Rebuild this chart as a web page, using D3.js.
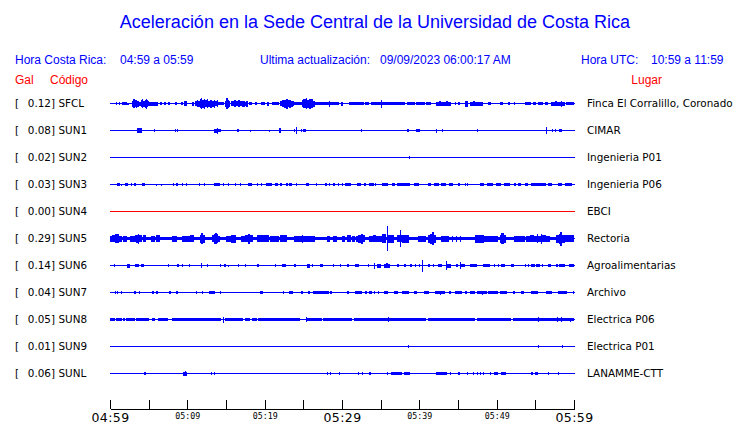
<!DOCTYPE html>
<html>
<head>
<meta charset="utf-8">
<script src="https://cdn.jsdelivr.net/npm/d3@7/dist/d3.min.js"></script>
<style>
  html, body { margin: 0; padding: 0; background: #fff; }
  svg { display: block; }
</style>
</head>
<body>
<svg id="chart" width="740" height="423"></svg>
<script>
// ---------------- DATA ----------------
const titleText = "Aceleración en la Sede Central de la Universidad de Costa Rica";
const horaCR = "04:59 a 05:59";
const ultimaAct = "09/09/2023 06:00:17 AM";
const horaUTC = "10:59 a 11:59";

const stations = ["SFCL", "SUN1", "SUN2", "SUN3", "SUN4", "SUN5", "SUN6", "SUN7", "SUN8", "SUN9", "SUNL"];
const places = ["Finca El Corralillo, Coronado", "CIMAR", "Ingenieria P01", "Ingenieria P06", "EBCI",
  "Rectoria", "Agroalimentarias", "Archivo", "Electrica P06", "Electrica P01", "LANAMME-CTT"];
const peakGal = [0.12, 0.08, 0.02, 0.03, 0.00, 0.29, 0.14, 0.04, 0.05, 0.01, 0.06];

// time ticks (minutes after 04:59) and their labels
const tickMinutes = [0, 5, 10, 15, 20, 25, 30, 35, 40, 45, 50, 55, 60];
const tickLabels = ["04:59", "", "05:09", "", "05:19", "", "05:29", "", "05:39", "", "05:49", "", "05:59"];
const majorLabels = ["04:59", "05:29", "05:59"];

// envelope segments: [start minute, end minute, half amplitude]
const sfclEnv = [[0.8,0.9,1.3],[1.1,1.2,1.3],[1.5,2.2,1.3],[2.2,2.5,1],
  [2.9,3.0,3],[3.0,3.2,4.5],[3.2,3.3,3.5],[3.3,3.5,4],[3.5,3.7,3],[3.7,4.0,2],
  [4.0,4.2,3.5],[4.2,4.3,4.5],[4.3,4.5,3],[4.5,4.6,4],[4.6,4.7,5],[4.7,4.9,3.5],[4.9,5.0,2.5],
  [5.0,6.2,2],[6.5,6.7,1.5],[7.0,7.2,1.3],[7.5,7.8,1.3],[8.4,8.6,1.3],[9.2,9.4,1.3],[9.6,9.9,2.5],[10.6,10.9,2],
  [11.0,11.2,2.5],[11.2,11.4,3.5],[11.4,11.6,3],
  [11.6,11.8,4.5],[11.8,11.9,5.5],[11.9,12.1,4],[12.1,12.3,5],
  [12.3,12.5,3.5],[12.5,12.7,4.5],[12.7,12.9,3],[12.9,13.2,4],[13.2,13.4,3],[13.4,13.6,4],[13.6,13.8,2.5],[13.8,14.0,3.5],
  [14.0,14.8,1.5],
  [14.9,15.0,3],[15.0,15.2,5.5],[15.2,15.3,4],[15.3,15.5,3],
  [15.7,16.0,2.5],[16.0,16.3,3.5],[16.3,16.5,2.5],[16.5,16.8,3.5],[16.8,17.1,2.5],[17.1,17.4,3],[17.4,17.6,2],[17.6,17.9,3],
  [18.0,18.3,1.5],[18.7,19.0,1.3],[19.5,19.8,1.3],[19.7,20.1,1.5],[20.3,20.6,2],[20.9,21.8,1.5],
  [22.0,22.3,2.5],[22.3,22.5,3.5],[22.5,22.7,4],[22.7,23.0,5],[23.0,23.2,3.5],[23.2,23.4,4],[23.4,23.6,3],[23.6,23.8,2.5],
  [23.8,24.8,1.5],
  [24.8,25.0,3.5],[25.0,25.3,4.5],[25.3,25.5,5.5],[25.5,25.7,4],[25.7,26.0,5],[26.0,26.2,4.5],[26.2,26.5,3],
  [26.5,28.3,1.5],[28.3,28.4,3],[28.5,29.6,1.5],[29.9,30.1,2],[30.9,32.8,1.5],
  [33.0,33.5,1.5],[33.7,35.0,1.5],[35.0,35.1,4],[35.2,38.2,1.5],[38.4,39.5,1.5],[39.6,39.9,1.5],[39.8,40.7,1.5],
  [40.9,41.5,1.5],[42.2,42.6,2],[42.6,42.8,2.5],[42.8,43.5,2],[43.5,43.7,2.5],[43.7,44.1,2],[44.6,44.8,1.3],[45.0,45.2,1.3],
  [45.9,46.3,3],[46.5,47.0,2],[47.0,47.2,2.5],[47.2,48.2,2],[48.9,49.3,1.5],
  [50.4,50.8,1.3],[51.5,51.7,1.3],[52.2,52.3,1.3],[53.6,54.5,1.5],[54.7,55.1,1.3],[55.3,56.0,1.5],[56.2,56.6,1.5],
  [57.0,57.6,2],[57.6,57.8,2.5],[57.8,58.3,2],[58.3,58.4,3],[58.4,58.8,2],[59.0,60,1.5]];
const sun1Env = [[3.5,4.1,2.3],[5.7,5.8,1.5],[8.4,8.5,1.5],[8.7,8.8,1.5],[13.4,13.8,2],[13.8,13.9,3],[14.0,14.4,1.5],
  [16.4,16.7,1.5],[18.1,18.2,1],[20.6,20.7,1],[21.8,22.1,2.3],[23.8,23.9,1.3],[24.1,24.2,3.3],[24.7,24.8,1.3],
  [25.0,25.3,1.5],[32.5,32.6,1.5],[38.4,38.6,1.5],[39.6,40.1,1.5],[42.2,42.3,2],[42.9,43.0,1.3],[47.5,47.6,1.3],
  [56.4,56.5,3.5],[57.2,57.3,1.3],[57.5,57.7,1.3],[58.1,58.4,1.5]];
const sun2Env = [[38.6,38.7,1.3]];
const sun3Env = [[0.9,1.3,1.5],[1.4,1.5,1],[2.0,2.3,1.5],[2.7,2.8,1.3],[3.1,3.3,1.3],[4.2,4.5,1.5],[6.0,6.1,1],
  [6.6,6.7,1],[8.2,8.3,1.3],[8.5,8.8,1.5],[9.3,9.5,1.5],[9.8,10.0,1.5],[11.5,11.6,1.3],[12.2,12.3,1.3],
  [13.4,14.2,1.5],[14.6,14.7,1.2],[15.2,15.4,1.3],[16.1,16.3,1.3],[16.8,17.0,1.3],[17.8,18.4,1.5],[19.0,19.1,1.2],
  [19.5,19.6,1.2],[20.2,20.9,1.5],[21.4,21.7,1.3],[22.0,22.3,1.3],[22.7,23.0,1.3],[23.2,23.5,1.3],[24.0,24.2,1.3],
  [25.4,25.7,1.3],[26.7,26.8,1.2],[27.8,28.1,1.3],[28.3,28.4,1.3],[28.8,29.1,1.3],[29.5,29.6,1.2],[30.0,30.1,1.2],
  [30.4,31.2,1.5],[31.9,32.4,1.5],[32.9,33.1,1.3],[33.5,34.1,1.5],[34.3,34.4,1.2],[35.2,36.0,1.5],[36.5,36.8,1.3],
  [37.1,38.8,1.5],[39.3,40.0,1.5],[41.1,41.5,1.3],[41.9,42.6,1.5],[42.8,43.5,1.5],[43.9,44.3,1.3],[45.0,45.3,1.3],
  [45.9,46.0,1.2],[46.2,46.3,1.2],[47.8,48.4,1.5],[48.7,49.5,1.5],[49.9,50.6,1.5],[50.9,51.7,1.5],[52.2,52.5,1.3],
  [52.8,53.2,1.3],[53.7,54.0,1.3],[54.5,56.4,1.5],[56.6,57.1,1.5],[57.9,58.5,1.5],[58.8,59.7,1.5]];
const sun4Env = [];
const sun5Env = [[0,60,1.8],
  [0,0.3,3],[0.3,0.7,3.5],[0.7,1.1,4.2],[1.1,1.5,3],[1.7,2.2,3],[2.6,3.2,3],
  [3.2,3.4,3.5],[3.4,3.6,4],[3.6,3.8,5],[3.8,4.1,3.5],[4.3,4.7,3.5],
  [5.3,5.8,3],[5.9,6.5,3.5],[8.0,8.6,3],[9.3,10.3,3],[10.3,10.8,3.5],
  [11.6,11.8,4],[11.8,12.0,5.5],[12.0,12.3,4],
  [13.2,13.4,3.5],[13.4,13.6,5],[13.6,13.8,5.5],[13.8,14.0,4.5],[14.0,14.2,3],
  [15.0,15.6,3],[15.6,16.3,4],[16.9,17.4,3],
  [17.5,17.8,3.5],[17.8,18.1,5],[18.1,18.5,3.5],
  [19.0,20.5,3.5],[20.7,21.8,3],[22.0,22.9,3.5],
  [23.8,24.8,3],[24.8,25.0,4],[25.0,25.7,3],[25.7,26.5,3],[28.1,28.5,3],[28.9,29.4,3],[30.0,30.4,3],[30.6,31.1,3.5],
  [31.3,31.7,3],[31.8,32.1,3],[32.1,32.5,4],[32.5,32.7,5],[32.7,33.0,3.5],
  [33.5,34.0,3],[34.0,34.4,3.5],[34.4,35.2,3],[35.2,35.7,4.5],[35.8,36.0,12.5],[36.0,36.7,4],
  [37.1,37.5,3.5],[37.5,37.6,8.5],[37.6,37.8,3.5],[37.8,38.6,4],[39.8,40.9,3],
  [41.1,41.4,4],[41.4,41.7,5],[41.7,41.9,6.5],[41.9,42.2,4],[42.8,43.9,3],
  [44.2,44.3,3],[44.8,44.9,3],[45.3,45.4,3],[47.2,48.4,4],[48.4,50.2,3],
  [50.4,50.6,4],[50.6,50.9,5.5],[50.9,51.2,4],[52.2,53.6,3],
  [53.8,54.3,3],[54.3,54.8,3.5],[54.8,55.2,3],[55.2,55.4,4.5],[55.4,55.7,3],[55.7,55.9,5],[55.9,56.4,3.5],[56.4,56.9,3],
  [57.7,58.0,4],[58.0,58.2,5],[58.2,58.4,7],[58.4,58.8,4],[58.8,60,3.5]];
const sun6Env = [[0.55,0.65,1.7],[2.2,2.6,2],[3.2,3.7,1.5],[4.0,4.4,1.8],[7.5,7.6,1.3],[8.6,8.9,1.5],[9.3,9.4,1.3],
  [10.2,10.3,1.3],[11.8,11.9,2.5],[12.6,12.7,1.2],[14.2,14.3,1.3],[14.8,15.0,1.5],[15.3,15.4,1],[16.5,16.6,1.2],
  [17.5,17.6,1.2],[19.0,19.3,1.2],[21.4,21.5,1.2],[22.2,22.8,1.5],[23.8,24.1,1.5],[25.5,25.9,2],[26.1,26.2,1.3],
  [27.2,27.5,1.7],[28.8,28.9,1.2],[29.8,29.9,1.2],[30.6,30.9,1.3],[31.7,32.2,1.3],[33.4,33.5,1.3],[34.1,34.3,3],
  [34.5,35.0,2],[35.4,35.7,2],[35.7,35.9,2.5],[35.9,36.2,2],[37.1,37.4,1.3],[38.0,38.3,1.3],[38.8,39.0,1.3],[39.5,39.6,1.2],[40.0,40.1,1.2],
  [40.3,40.4,6],[41.1,41.4,1.3],[41.8,41.9,1.3],[42.4,42.9,1.3],[43.5,43.6,4.5],[43.6,44.1,2],[44.8,45.0,1.3],
  [45.2,45.3,3.5],[45.3,45.9,1.8],[46.5,47.4,1.5],[48.2,49.1,1.5],[49.6,49.7,1.3],[50.2,50.3,1.3],[50.6,51.1,1.3],
  [51.9,52.3,1.3],[53.6,53.7,1.2],[54.0,54.1,1.2],[54.5,54.9,1.5],[55.1,55.6,1.5],[55.8,55.9,1.2],[56.6,57.0,1.3],
  [57.7,57.9,1.3],[58.1,58.8,1.5],[59.4,60,1.5]];
const sun7Env = [[0.6,0.7,1.5],[0.9,1.0,1.5],[1.4,1.5,1.3],[3.1,3.4,1.5],[3.7,3.8,1.3],[5.4,5.7,1.5],[6.0,6.2,1.5],
  [7.6,7.9,1.5],[8.5,8.8,1.8],[11.1,11.2,1.3],[11.9,12.0,1.3],[12.8,13.6,1.8],[14.2,14.3,1.3],[19.4,19.8,1.8],
  [22.4,22.5,1.2],[23.2,23.6,1.5],[24.7,25.0,1.3],[25.6,25.8,1.5],[26.3,28.3,1.5],[28.5,28.7,1.2],[30.6,30.9,1.3],
  [31.7,32.6,1.8],[33.0,33.2,1.3],[33.5,33.9,1.3],[34.1,34.3,1.3],[34.6,34.8,1.3],[35.4,36.0,1.5],[36.7,37.3,1.5],
  [37.8,38.7,1.8],[39.3,39.7,1.3],[40.6,41.3,1.3],[42.0,43.3,1.5],[42.7,42.8,2],[43.9,44.1,1.3],[44.6,45.5,1.5],
  [45.9,46.2,1.3],[46.5,47.2,1.5],[47.5,48.7,1.8],[48.1,48.2,2],[48.9,50.2,1.5],[50.4,51.4,1.5],[52.1,52.4,1.3],
  [53.1,53.5,1.3],[54.5,55.4,1.5],[56.4,57.1,1.3],[57.9,59.1,1.5],[59.9,60,1.2]];
const sun8Env = [[0,0.6,1.7],[0.8,1.5,1.7],[1.7,1.9,1.7],[2.1,3.2,1.7],[3.4,5.0,1.7],[5.4,5.8,1.7],[6.2,7.5,1.7],
  [8.0,10.8,1.7],[10.9,14.4,1.7],[14.6,14.7,3],[14.9,17.2,1.7],[17.5,18.1,1.7],[18.3,19.0,1.7],[19.2,24.6,1.7],
  [25.3,27.4,1.7],[25.4,25.5,2.5],[27.6,31.3,1.7],[31.5,35.8,1.7],[35.8,40.9,1.7],[36.0,36.1,2.5],[41.1,47.2,1.7],
  [47.4,51.9,1.7],[52.1,60,1.7],[55.4,55.5,2.2],[57.8,57.9,2.5],[58.3,58.4,2.5],[59.5,59.6,2]];
const sun9Env = [[38.5,38.6,1.2],[55.3,55.4,1.5],[58.4,58.5,1.2]];
const sunlEnv = [[4.4,4.6,1.5],[9.4,9.9,2],[9.7,9.8,2.5],[13.1,13.2,1.3],[13.4,13.5,1.3],[28.1,28.2,1.3],
  [28.5,28.6,1.2],[29.6,29.7,1.2],[32.1,32.2,1.5],[32.6,32.7,1.5],[33.5,33.8,1.3],[35.8,35.9,1.2],[36.4,37.8,1.8],
  [38.0,38.8,1.8],[42.2,43.6,1.8],[44.0,44.1,1.3],[45.0,45.2,1.3],[46.1,46.2,1.3],[46.9,47.0,1.2],[47.4,47.5,1.2],
  [47.8,47.9,1.2],[48.2,48.3,1.2],[49.1,49.2,1.2],[49.6,50.2,1.5],[50.5,51.2,1.8],[54.5,54.7,1.3],[54.9,55.3,1.3],
  [56.6,56.7,1.2],[57.9,58.0,1.3]];

const envelopes = [sfclEnv, sun1Env, sun2Env, sun3Env, sun4Env, sun5Env, sun6Env, sun7Env, sun8Env, sun9Env, sunlEnv];

// ---------------- DRAW ----------------
const svg = d3.select("#chart");
const BLUE = "#0000ff", RED = "#ff0000";
const sans = "'Liberation Sans', Arial, sans-serif";
const djv = "'DejaVu Sans', sans-serif";

const x = d3.scaleLinear().domain([0, 60]).range([110, 574]);
const y = d3.scaleLinear().domain([0, stations.length - 1]).range([103, 373]);
const amp = d3.scaleLinear().domain([0, 12.5]).range([0, 12.5]);

// Title
svg.append("text").attr("x", 375).attr("y", 28).attr("text-anchor", "middle")
  .attr("font-family", sans).attr("font-size", 18).attr("fill", BLUE).text(titleText);

// Header row
const hdr = svg.append("g").attr("font-family", sans).attr("font-size", 12).attr("fill", BLUE);
hdr.append("text").attr("x", 15).attr("y", 64).text("Hora Costa Rica:");
hdr.append("text").attr("x", 120).attr("y", 64).text(horaCR);
hdr.append("text").attr("x", 260).attr("y", 64).text("Ultima actualización:");
hdr.append("text").attr("x", 380).attr("y", 64).text(ultimaAct);
hdr.append("text").attr("x", 581).attr("y", 64).text("Hora UTC:");
hdr.append("text").attr("x", 651).attr("y", 64).text(horaUTC);

const hdr2 = svg.append("g").attr("font-family", sans).attr("font-size", 12).attr("fill", RED);
hdr2.append("text").attr("x", 15).attr("y", 84).text("Gal");
hdr2.append("text").attr("x", 50).attr("y", 84).text("Código");
hdr2.append("text").attr("x", 662).attr("y", 84).attr("text-anchor", "end").text("Lugar");

// Rows
const rows = svg.selectAll("g.row").data(stations).join("g").attr("class", "row");

rows.each(function(name, i) {
  const g = d3.select(this);
  const cy = y(i);
  const col = peakGal[i] === 0 ? RED : BLUE;
  const lab = g.append("g").attr("font-family", djv).attr("font-size", 10.4).attr("fill", "#000");
  lab.append("text").attr("x", 15).attr("y", cy + 4).text("[");
  lab.append("text").attr("x", 55).attr("y", cy + 4).attr("text-anchor", "end").text(peakGal[i].toFixed(2) + "]");
  lab.append("text").attr("x", 58.5).attr("y", cy + 4).text(name);
  lab.append("text").attr("x", 587).attr("y", cy + 4).text(places[i]);

  g.append("line").attr("x1", x(0)).attr("x2", x(60) + 0.7).attr("y1", cy + 0.5).attr("y2", cy + 0.5)
    .attr("stroke", col).attr("stroke-width", 1).attr("shape-rendering", "crispEdges");

  g.selectAll("rect").data(envelopes[i]).join("rect")
    .attr("x", d => x(d[0]))
    .attr("width", d => Math.max(1, x(d[1]) - x(d[0])))
    .attr("y", d => cy + 0.5 - amp(d[2]))
    .attr("height", d => 2 * amp(d[2]))
    .attr("fill", col).attr("shape-rendering", "crispEdges");
});

// Time axis
const axis = d3.axisBottom(x).tickValues(tickMinutes).tickSizeInner(-9).tickSizeOuter(0)
  .tickFormat((d, i) => tickLabels[i]);
const ax = svg.append("g").attr("transform", "translate(0,409)").call(axis);
ax.select(".domain").attr("stroke", "#000").attr("shape-rendering", "crispEdges");
ax.selectAll(".tick line").attr("stroke", "#000").attr("shape-rendering", "crispEdges");
ax.selectAll(".tick text").each(function(d, i) {
  const t = d3.select(this);
  const lbl = tickLabels[i];
  const major = majorLabels.includes(lbl);
  t.attr("dy", null).attr("fill", "#000")
   .attr("y", major ? 12.5 : 9.5)
   .attr("font-family", major ? djv : "'DejaVu Sans Mono', monospace")
   .attr("font-weight", "normal")
   .attr("letter-spacing", major ? 0.4 : 0)
   .attr("font-size", major ? 12.5 : 8.3);
});
</script>
</body>
</html>
